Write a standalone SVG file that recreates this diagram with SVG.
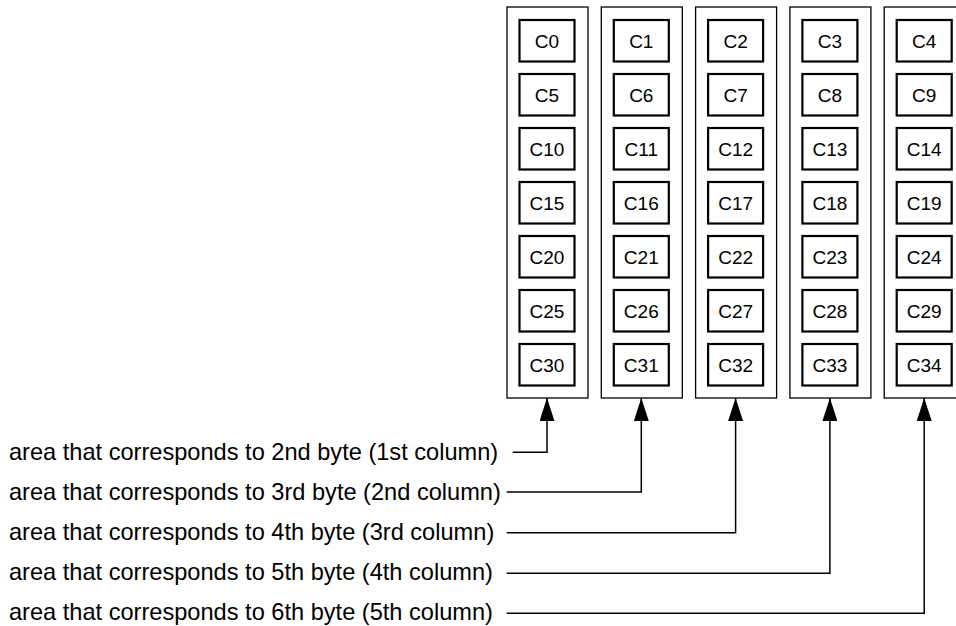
<svg xmlns="http://www.w3.org/2000/svg" width="956" height="626" viewBox="0 0 956 626">
<defs>
<marker id="arr" markerUnits="userSpaceOnUse" viewBox="0 0 23 15" refX="23" refY="7.5" markerWidth="23" markerHeight="15" orient="auto">
<path d="M0,0 L23,7.5 L0,15 z" fill="#000"/>
</marker>
</defs>
<style>
.col{fill:#fff;stroke:#000;stroke-width:1.3}
.cell{fill:#fff;stroke:#000;stroke-width:2.2}
.ct{font-family:"Liberation Sans",Arial,sans-serif;font-size:19px;text-anchor:middle;fill:#000}
.lt{font-family:"Liberation Sans",Arial,sans-serif;font-size:23.6px;fill:#000}
.con{fill:none;stroke:#000;stroke-width:1.5;marker-end:url(#arr)}
</style>
<g id="col1">
<rect class="col" x="507" y="7" width="81" height="391"/>
<rect class="cell" x="519.5" y="20" width="55" height="41.5"/><text class="ct" x="547" y="47.5">C0</text>
<rect class="cell" x="519.5" y="74" width="55" height="41.5"/><text class="ct" x="547" y="101.5">C5</text>
<rect class="cell" x="519.5" y="128" width="55" height="41.5"/><text class="ct" x="547" y="155.5">C10</text>
<rect class="cell" x="519.5" y="182" width="55" height="41.5"/><text class="ct" x="547" y="209.5">C15</text>
<rect class="cell" x="519.5" y="236" width="55" height="41.5"/><text class="ct" x="547" y="263.5">C20</text>
<rect class="cell" x="519.5" y="290" width="55" height="41.5"/><text class="ct" x="547" y="317.5">C25</text>
<rect class="cell" x="519.5" y="344" width="55" height="41.5"/><text class="ct" x="547" y="371.5">C30</text>
</g>
<g id="col2">
<rect class="col" x="601.3" y="7" width="81" height="391"/>
<rect class="cell" x="613.8" y="20" width="55" height="41.5"/><text class="ct" x="641.3" y="47.5">C1</text>
<rect class="cell" x="613.8" y="74" width="55" height="41.5"/><text class="ct" x="641.3" y="101.5">C6</text>
<rect class="cell" x="613.8" y="128" width="55" height="41.5"/><text class="ct" x="641.3" y="155.5">C11</text>
<rect class="cell" x="613.8" y="182" width="55" height="41.5"/><text class="ct" x="641.3" y="209.5">C16</text>
<rect class="cell" x="613.8" y="236" width="55" height="41.5"/><text class="ct" x="641.3" y="263.5">C21</text>
<rect class="cell" x="613.8" y="290" width="55" height="41.5"/><text class="ct" x="641.3" y="317.5">C26</text>
<rect class="cell" x="613.8" y="344" width="55" height="41.5"/><text class="ct" x="641.3" y="371.5">C31</text>
</g>
<g id="col3">
<rect class="col" x="695.6" y="7" width="81" height="391"/>
<rect class="cell" x="708.1" y="20" width="55" height="41.5"/><text class="ct" x="735.6" y="47.5">C2</text>
<rect class="cell" x="708.1" y="74" width="55" height="41.5"/><text class="ct" x="735.6" y="101.5">C7</text>
<rect class="cell" x="708.1" y="128" width="55" height="41.5"/><text class="ct" x="735.6" y="155.5">C12</text>
<rect class="cell" x="708.1" y="182" width="55" height="41.5"/><text class="ct" x="735.6" y="209.5">C17</text>
<rect class="cell" x="708.1" y="236" width="55" height="41.5"/><text class="ct" x="735.6" y="263.5">C22</text>
<rect class="cell" x="708.1" y="290" width="55" height="41.5"/><text class="ct" x="735.6" y="317.5">C27</text>
<rect class="cell" x="708.1" y="344" width="55" height="41.5"/><text class="ct" x="735.6" y="371.5">C32</text>
</g>
<g id="col4">
<rect class="col" x="789.9" y="7" width="81" height="391"/>
<rect class="cell" x="802.4" y="20" width="55" height="41.5"/><text class="ct" x="829.9" y="47.5">C3</text>
<rect class="cell" x="802.4" y="74" width="55" height="41.5"/><text class="ct" x="829.9" y="101.5">C8</text>
<rect class="cell" x="802.4" y="128" width="55" height="41.5"/><text class="ct" x="829.9" y="155.5">C13</text>
<rect class="cell" x="802.4" y="182" width="55" height="41.5"/><text class="ct" x="829.9" y="209.5">C18</text>
<rect class="cell" x="802.4" y="236" width="55" height="41.5"/><text class="ct" x="829.9" y="263.5">C23</text>
<rect class="cell" x="802.4" y="290" width="55" height="41.5"/><text class="ct" x="829.9" y="317.5">C28</text>
<rect class="cell" x="802.4" y="344" width="55" height="41.5"/><text class="ct" x="829.9" y="371.5">C33</text>
</g>
<g id="col5">
<rect class="col" x="884.2" y="7" width="81" height="391"/>
<rect class="cell" x="896.7" y="20" width="55" height="41.5"/><text class="ct" x="924.2" y="47.5">C4</text>
<rect class="cell" x="896.7" y="74" width="55" height="41.5"/><text class="ct" x="924.2" y="101.5">C9</text>
<rect class="cell" x="896.7" y="128" width="55" height="41.5"/><text class="ct" x="924.2" y="155.5">C14</text>
<rect class="cell" x="896.7" y="182" width="55" height="41.5"/><text class="ct" x="924.2" y="209.5">C19</text>
<rect class="cell" x="896.7" y="236" width="55" height="41.5"/><text class="ct" x="924.2" y="263.5">C24</text>
<rect class="cell" x="896.7" y="290" width="55" height="41.5"/><text class="ct" x="924.2" y="317.5">C29</text>
<rect class="cell" x="896.7" y="344" width="55" height="41.5"/><text class="ct" x="924.2" y="371.5">C34</text>
</g>
<g id="labels">
<text class="lt" x="9" y="459.5">area that corresponds to 2nd byte (1st column)</text>
<text class="lt" x="9" y="499.5">area that corresponds to 3rd byte (2nd column)</text>
<text class="lt" x="9" y="540">area that corresponds to 4th byte (3rd column)</text>
<text class="lt" x="9" y="580">area that corresponds to 5th byte (4th column)</text>
<text class="lt" x="9" y="620">area that corresponds to 6th byte (5th column)</text>
</g>
<g id="connectors">
<path class="con" d="M512.7,452.3 H547 V398"/>
<path class="con" d="M506.7,492 H641.3 V398"/>
<path class="con" d="M506.7,532.7 H735.6 V398"/>
<path class="con" d="M506.7,573.3 H829.9 V398"/>
<path class="con" d="M506.7,613.3 H924.2 V398"/>
</g>
</svg>
